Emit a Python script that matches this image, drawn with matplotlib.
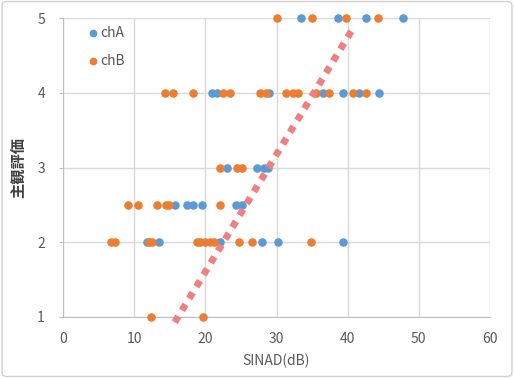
import matplotlib
matplotlib.use("Agg")
import matplotlib.pyplot as plt
from matplotlib.patches import FancyBboxPatch

plt.rcParams['font.family'] = ['Noto Sans CJK JP', 'DejaVu Sans']

# chA (blue)
chA_x = [33.4, 38.6, 42.6, 47.8,
         21.0, 21.6, 29.0, 36.6, 39.4, 41.6, 44.4,
         23.0, 27.2, 28.2, 28.8,
         15.7, 17.4, 18.3, 19.5, 24.3, 25.1,
         11.8, 13.5, 22.1, 27.9, 30.2, 39.3]
chA_y = [5, 5, 5, 5,
         4, 4, 4, 4, 4, 4, 4,
         3, 3, 3, 3,
         2.5, 2.5, 2.5, 2.5, 2.5, 2.5,
         2, 2, 2, 2, 2, 2]

# chB (orange)
chB_x = [30.0, 35.0, 39.7, 44.3,
         14.3, 15.5, 18.2, 22.5, 23.5, 27.7, 28.5, 31.4, 32.3, 33.0, 35.6, 37.4, 40.8, 42.6,
         22.0, 24.4, 25.2,
         9.2, 10.6, 13.2, 14.5, 14.9, 22.0,
         6.8, 7.3, 12.1, 12.5, 18.8, 19.2, 19.9, 20.6, 21.2, 24.8, 26.6, 34.9,
         12.3, 19.7]
chB_y = [5, 5, 5, 5,
         4, 4, 4, 4, 4, 4, 4, 4, 4, 4, 4, 4, 4, 4,
         3, 3, 3,
         2.5, 2.5, 2.5, 2.5, 2.5, 2.5,
         2, 2, 2, 2, 2, 2, 2, 2, 2, 2, 2, 2,
         1, 1]

# hand-drawn guide line
guide_x = [15.7, 41.0]
guide_y = [0.93, 4.9]

x_ticks = [0, 10, 20, 30, 40, 50, 60]
y_ticks = [1, 2, 3, 4, 5]

fig = plt.figure(figsize=(5.14, 3.78), dpi=100)
fig.patch.set_facecolor('white')
border = FancyBboxPatch((0.004, 0.004), 0.992, 0.992, boxstyle="round,pad=0,rounding_size=0.01",
                        transform=fig.transFigure, fill=False, edgecolor='#D0D0D0', linewidth=1)
fig.patches.append(border)

ax = fig.add_axes([63/514, 1-317/378, (490-63)/514, (317-18)/378])
ax.set_xlim(0, 60)
ax.set_ylim(1, 5)
ax.set_xticks(x_ticks)
ax.set_yticks(y_ticks)
ax.grid(True, color='#D9D9D9', linewidth=1)
ax.set_axisbelow(True)
for s in ['top', 'right']:
    ax.spines[s].set_visible(False)
for s in ['left', 'bottom']:
    ax.spines[s].set_color('#BFBFBF')
ax.tick_params(axis='both', colors='#BFBFBF', labelcolor='#595959', labelsize=10, length=3)
ax.tick_params(axis='x', length=0, pad=11)
ax.tick_params(axis='y', pad=10)

ax.scatter(chA_x, chA_y, s=38, color='#5B9BD5', label='chA', zorder=3, clip_on=False, linewidths=0)
ax.scatter(chB_x, chB_y, s=38, color='#ED7D31', label='chB', zorder=3, clip_on=False, linewidths=0)
ax.plot(guide_x, guide_y, linestyle=(0, (1, 1)), linewidth=5, color='#F08080',
        zorder=4, clip_on=False, solid_capstyle='butt', dash_capstyle='butt')

leg = ax.legend(loc='upper left', bbox_to_anchor=(0.025, 1.015), frameon=False, fontsize=10,
                labelcolor='#595959', handletextpad=0.0, labelspacing=1.0, handlelength=1.0,
                markerscale=0.9)

ax.set_xlabel('SINAD(dB)', color='#595959', fontsize=10, labelpad=5)
ax.set_ylabel('主観評価', color='#404040', fontsize=11, fontweight='bold', labelpad=8)

fig.savefig('out.png', dpi=100, facecolor='white')
